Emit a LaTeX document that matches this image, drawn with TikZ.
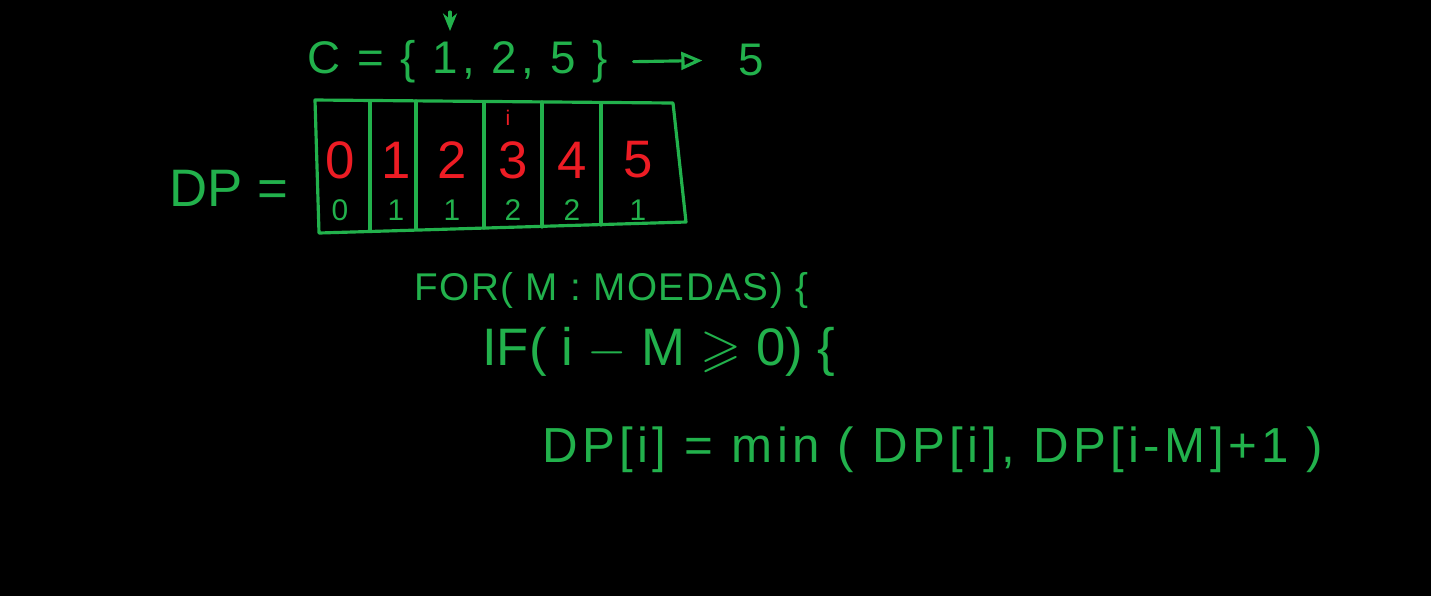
\documentclass[tikz,border=0pt]{standalone}
\usepackage{amssymb}
\usepackage{fontspec}
\setmainfont{Liberation Sans}
\usetikzlibrary{arrows.meta, positioning}

\begin{document}
\begin{tikzpicture}[x=0.01cm,y=-0.01cm]
\definecolor{chalkgreen}{RGB}{34,177,76}
\definecolor{chalkred}{RGB}{237,28,36}
\tikzset{
  pen/.style={draw=chalkgreen, line width=0.9pt, line cap=round, line join=round},
  greentext/.style={text=chalkgreen, inner sep=1pt},
  celldigit/.style={text=chalkred, inner sep=1pt, font=\fontsize{15}{17}\selectfont},
  countdigit/.style={text=chalkgreen, inner sep=1pt, font=\fontsize{8.5}{10}\selectfont},
}
\fill[black] (0,0) rectangle (1431,596);

\node[greentext, font=\fontsize{13}{15}\selectfont\addfontfeatures{LetterSpace=9}, anchor=west] (coins) at (303,62) {C = \{ 1, 2, 5 \}};
\node[greentext, font=\fontsize{13}{15}\selectfont] (target) at (751,60) {5};
\coordinate (PtrTop) at (450,12);
\coordinate (PtrTip) at (450,31);
\draw[pen, -{Stealth[length=5pt,width=4pt]}] (PtrTop) -- (PtrTip);
\draw[pen, shorten <=6pt, shorten >=9pt, -{Triangle[open,length=6pt,width=5pt]}] (coins.east) -- (target.west);

\node[greentext, font=\fontsize{15}{17}\selectfont] (dplabel) at (229,188) {DP =};

\coordinate (TL) at (315,100);
\coordinate (TR) at (673,103);
\coordinate (BR) at (686,222);
\coordinate (BL) at (319,233);
\draw[pen] (TL) -- (TR) -- (BR) -- (BL) -- cycle;
\foreach \xd/\yt/\yb in {370/101/231, 416/101/229, 484/102/228, 542/102/227, 601/103/225}
  \draw[pen] (\xd,\yt) -- (\xd,\yb);

\foreach \idx/\xc/\cnt in {0/340/0, 1/396/1, 2/452/1, 3/513/2, 4/572/2, 5/638/1}
{
  \node[celldigit] (amount\idx) at (\xc,160) {\idx};
  \node[countdigit] (count\idx) at (\xc,210) {\cnt};
}
\node[text=chalkred, inner sep=0pt, font=\fontsize{6}{7}\selectfont] (cursor) at (508,118) {i};

\node[greentext, font=\fontsize{11}{13}\selectfont\addfontfeatures{LetterSpace=4}, anchor=west] (forline) at (410,290) {FOR( M : MOEDAS) \{};
\node[greentext, font=\fontsize{15}{17}\selectfont, anchor=west] (ifline) at (478,352) {IF( i $-$ M $\geqslant$ 0) \{};
\node[greentext, font=\fontsize{14}{16}\selectfont\addfontfeatures{LetterSpace=9}, anchor=west] (updateline) at (538,450) {DP[i] = min ( DP[i], DP[i-M]+1 )};
\end{tikzpicture}
\end{document}
